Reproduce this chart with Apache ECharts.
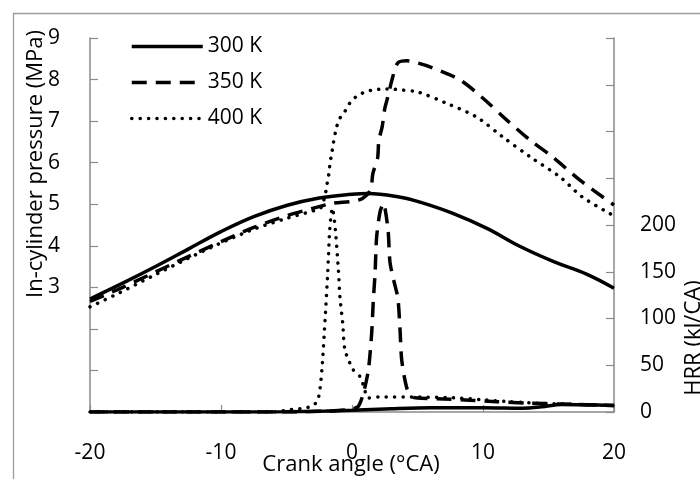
<!DOCTYPE html>
<html>
<head>
<meta charset="utf-8">
<script src="https://cdn.jsdelivr.net/npm/echarts@6/dist/echarts.min.js"></script>
<style>
  html, body { margin: 0; padding: 0; background: #fff; }
  #chart { width: 700px; height: 479px; }
</style>
</head>
<body>
<div id="chart"></div>
<script>
// 压力曲线 (MPa)
var angleP300 = [-20, -17.5, -15, -12.5, -10, -7.5, -5, -2.5, 0, 1.2, 3.7, 5.2, 7.7, 10.3, 12.8, 15.4, 17.9, 20];
var pres300   = [2.72, 3.10, 3.50, 3.92, 4.34, 4.70, 4.97, 5.15, 5.24, 5.26, 5.17, 5.05, 4.78, 4.42, 3.99, 3.62, 3.32, 2.98];

var angleP350 = [-20, -17.5, -15, -12.5, -10, -7.5, -5, -3, -1.5, 0, 0.8, 1.4, 1.6, 1.95, 2.05, 2.3, 2.5, 2.75, 3.1, 3.5, 4.2, 5, 6, 8.25, 10, 11.8, 13.6, 15.3, 17.4, 20];
var pres350   = [2.66, 3.00, 3.37, 3.74, 4.10, 4.44, 4.72, 4.90, 5.02, 5.07, 5.14, 5.34, 5.75, 6.10, 6.54, 6.86, 7.30, 7.60, 8.05, 8.40, 8.45, 8.40, 8.30, 7.99, 7.55, 7.03, 6.54, 6.14, 5.58, 4.98];

var angleP400 = [-20, -17.8, -15.3, -12.75, -10.2, -7.66, -5.1, -2.57, -2.3, -2.0, -1.88, -1.76, -1.68, -1.55, -1.45, -1.17, -0.92, -0.53, -0.15, 0.36, 0.99, 1.6, 2.37, 3.05, 3.8, 5.04, 7.2, 9.5, 11.5, 13.6, 15.9, 17.6, 20];
var pres400   = [2.53, 2.86, 3.26, 3.66, 4.04, 4.38, 4.65, 4.88, 4.95, 5.30, 5.53, 5.74, 5.98, 6.22, 6.42, 6.86, 7.07, 7.24, 7.44, 7.60, 7.70, 7.75, 7.77, 7.77, 7.75, 7.70, 7.43, 7.10, 6.62, 6.14, 5.65, 5.17, 4.72];

// 放热率曲线 (kJ/CA)
var angleH300 = [-20, -10, -5, -2, 0, 3, 6, 10, 13, 14.5, 16, 20];
var hrr300    = [0, 0, 0.3, 1, 2, 3.5, 4.5, 4.5, 4, 5.5, 8, 7];

var angleH350 = [-20, -5, -2, 0, 0.48, 0.87, 1.25, 1.5, 1.63, 1.76, 1.88, 2.14, 2.39, 2.75, 2.9, 3.2, 3.5, 3.66, 3.8, 4.2, 4.65, 5, 7, 9, 11, 13.5, 16, 20];
var hrr350    = [0, 0, 1, 3, 6, 20, 45, 84, 120, 148, 187, 214, 223, 195, 160, 140, 122, 90, 55, 25, 16, 15, 14, 12.5, 11, 9.5, 8.5, 7];

var angleH400 = [-20, -10, -5.75, -5, -4.35, -3.7, -2.95, -2.56, -2.3, -2.06, -1.85, -1.7, -1.5, -1.3, -1.04, -0.92, -0.71, -0.53, 0.1, 0.61, 0.86, 1.25, 2, 5, 8, 10, 12, 14, 16, 20];
var hrr400    = [0, 0, 0, 2, 3, 4, 7, 15, 45, 98, 150, 195, 218, 200, 152, 123, 95, 66, 45, 38, 29, 15, 16, 16, 15, 13, 11, 9.5, 8.5, 7];

var xTicks = { min: -20, max: 20, interval: 10 };
var legendNames = ['300 K', '350 K', '400 K'];

var FONT = '"Open Sans", "Noto Sans", sans-serif';
var AXIS_GRAY = '#8a8a8a';

function pair(xs, ys) {
    var out = [];
    for (var i = 0; i < xs.length; i++) {
        out.push([xs[i], ys[i]]);
    }
    return out;
}

var styles = {
    '300 K': { type: 'solid', cap: 'butt' },
    '350 K': { type: [15, 9], cap: 'butt' },
    '400 K': { type: [0.1, 8.3], cap: 'round' }
};

function makeSeries(name, axis, data, smooth) {
    return {
        name: name,
        type: 'line',
        yAxisIndex: axis,
        data: data,
        symbol: 'none',
        smooth: smooth,
        animation: false,
        itemStyle: { color: '#000' },
        lineStyle: {
            color: '#000',
            width: 3.5,
            type: styles[name].type,
            cap: styles[name].cap
        }
    };
}

// 轴标题用 graphic 文本定位
function axisTitle(text, x, y, rotation) {
    return {
        type: 'text',
        x: x,
        y: y,
        rotation: rotation,
        style: {
            text: text,
            font: '22px ' + FONT,
            fill: '#000',
            align: 'center',
            verticalAlign: 'middle'
        }
    };
}

var chart = echarts.init(document.getElementById('chart'));

var option = {
    backgroundColor: '#fff',
    animation: false,
    grid: {
        left: 90,
        right: 86,
        top: 38,
        bottom: 67,
        containLabel: false,
        outerBoundsMode: 'none'
    },
    legend: {
        data: legendNames,
        orient: 'vertical',
        left: 125,
        top: 31,
        itemWidth: 71,
        itemHeight: 14,
        itemGap: 15,
        itemStyle: { opacity: 0 },
        lineStyle: { width: 3.5 },
        textStyle: { fontFamily: FONT, fontSize: 21, color: '#000' }
    },
    xAxis: {
        type: 'value',
        min: xTicks.min,
        max: xTicks.max,
        interval: xTicks.interval,
        axisLine: { onZero: false, lineStyle: { color: AXIS_GRAY, width: 1.5 } },
        axisTick: { inside: true, length: 7, lineStyle: { color: AXIS_GRAY, width: 1.2 } },
        axisLabel: { margin: 31, fontFamily: FONT, fontSize: 21, color: '#000' },
        splitLine: { show: false }
    },
    yAxis: [
        {
            type: 'value',
            position: 'left',
            min: 0,
            max: 9,
            interval: 1,
            axisLine: { show: true, onZero: false, lineStyle: { color: AXIS_GRAY, width: 1.5 } },
            axisTick: { show: true, inside: true, length: 8, lineStyle: { color: AXIS_GRAY, width: 1.2 } },
            axisLabel: {
                margin: 30,
                fontFamily: FONT,
                fontSize: 21,
                color: '#000',
                formatter: function (v) { return v >= 3 ? String(v) : ''; }
            },
            splitLine: { show: false }
        },
        {
            type: 'value',
            position: 'right',
            min: 0,
            max: 400,
            interval: 50,
            axisLine: { show: true, onZero: false, lineStyle: { color: AXIS_GRAY, width: 1.5 } },
            axisTick: { show: true, inside: true, length: 8, lineStyle: { color: AXIS_GRAY, width: 1.2 } },
            axisLabel: {
                margin: 26,
                fontFamily: FONT,
                fontSize: 21,
                color: '#000',
                formatter: function (v) { return v <= 200 ? String(v) : ''; }
            },
            splitLine: { show: false }
        }
    ],
    graphic: [
        {
            type: 'rect',
            silent: true,
            shape: { x: 13.5, y: 13.5, width: 900, height: 900 },
            style: { fill: 'none', stroke: '#9c9c9c', lineWidth: 1.3 }
        },
        axisTitle('In-cylinder pressure (MPa)', 36, 164, Math.PI / 2),
        axisTitle('HRR (kJ/CA)', 694, 338, Math.PI / 2),
        axisTitle('Crank angle (°CA)', 351, 465, 0)
    ],
    series: [
        makeSeries('300 K', 0, pair(angleP300, pres300), 0.4),
        makeSeries('350 K', 0, pair(angleP350, pres350), 0.3),
        makeSeries('400 K', 0, pair(angleP400, pres400), 0.3),
        makeSeries('300 K', 1, pair(angleH300, hrr300), 0.3),
        makeSeries('350 K', 1, pair(angleH350, hrr350), 0.25),
        makeSeries('400 K', 1, pair(angleH400, hrr400), 0.25)
    ]
};

chart.setOption(option);
</script>
</body>
</html>
